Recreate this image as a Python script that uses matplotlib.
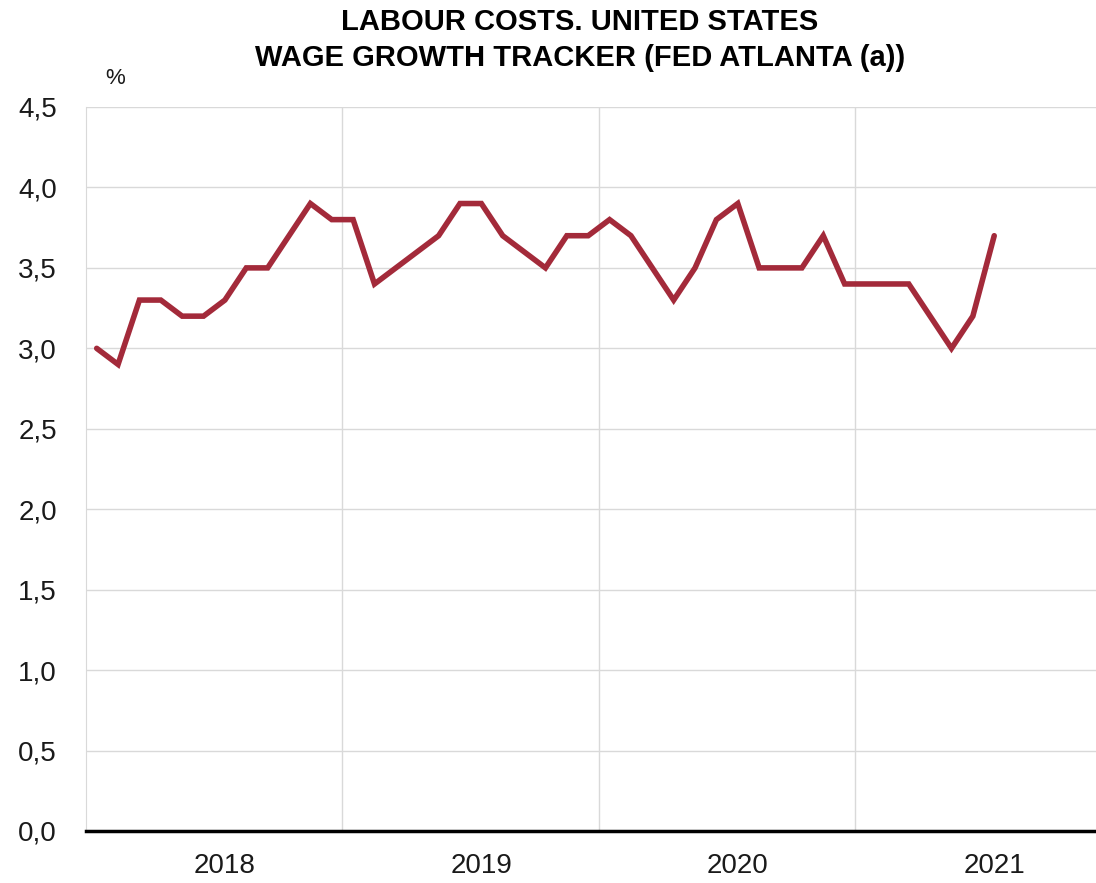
import matplotlib
matplotlib.use('Agg')
import matplotlib.pyplot as plt
from matplotlib.ticker import FuncFormatter, FixedLocator

# Monthly wage growth, Jan 2018 - Jul 2021 (%)
wage_2018 = [3.0, 2.9, 3.3, 3.3, 3.2, 3.2, 3.3, 3.5, 3.5, 3.7, 3.9, 3.8]
wage_2019 = [3.8, 3.4, 3.5, 3.6, 3.7, 3.9, 3.9, 3.7, 3.6, 3.5, 3.7, 3.7]
wage_2020 = [3.8, 3.7, 3.5, 3.3, 3.5, 3.8, 3.9, 3.5, 3.5, 3.5, 3.7, 3.4]
wage_2021 = [3.4, 3.4, 3.4, 3.2, 3.0, 3.2, 3.7]
years = ['2018', '2019', '2020', '2021']

values = wage_2018 + wage_2019 + wage_2020 + wage_2021
months = [i + 0.5 for i in range(len(values))]

plt.rcParams['font.family'] = ['Liberation Sans', 'DejaVu Sans']

fig = plt.figure(figsize=(10.96, 8.83), dpi=100)
ax = fig.add_axes([86 / 1096, 52 / 883, 1010 / 1096, 724 / 883])

ax.plot(months, values, color='#a32a3a', lw=4, solid_joinstyle='miter',
        solid_capstyle='round', zorder=3)

ax.set_xlim(0, 1010 / 21.37)
ax.set_ylim(0, 4.5)
ax.set_yticks([i * 0.5 for i in range(10)])
ax.yaxis.set_major_formatter(FuncFormatter(lambda v, p: f'{v:.1f}'.replace('.', ',')))

# year boundaries as gridlines, labels mid-year
ax.xaxis.set_major_locator(FixedLocator([12, 24, 36]))
ax.xaxis.set_major_formatter(FuncFormatter(lambda v, p: ''))
ax.set_xticks([6.5 + 12 * i for i in range(len(years))], minor=True)
ax.set_xticklabels(years, minor=True)

ax.grid(True, which='major', color='#d9d9d9', lw=1)
ax.tick_params(which='both', length=0)
ax.tick_params(axis='y', labelsize=20, pad=21, colors='#1a1a1a')
ax.tick_params(axis='x', which='minor', labelsize=20, pad=16, colors='#1a1a1a')

for s in ['top', 'right']:
    ax.spines[s].set_visible(False)
ax.spines['left'].set_color('#d9d9d9')
ax.spines['bottom'].set_color('black')
ax.spines['bottom'].set_linewidth(2.5)
ax.set_axisbelow(True)

fig.text(580 / 1096, 1 - 22 / 883, 'LABOUR COSTS. UNITED STATES', ha='center', va='center',
         fontsize=21, fontweight='bold')
fig.text(580 / 1096, 1 - 58 / 883, 'WAGE GROWTH TRACKER (FED ATLANTA (a))', ha='center',
         va='center', fontsize=21, fontweight='bold')
fig.text(115 / 1096, 1 - 78 / 883, '%', ha='center', va='center', fontsize=16,
         color='#1a1a1a')

fig.savefig('out.png', dpi=100)
